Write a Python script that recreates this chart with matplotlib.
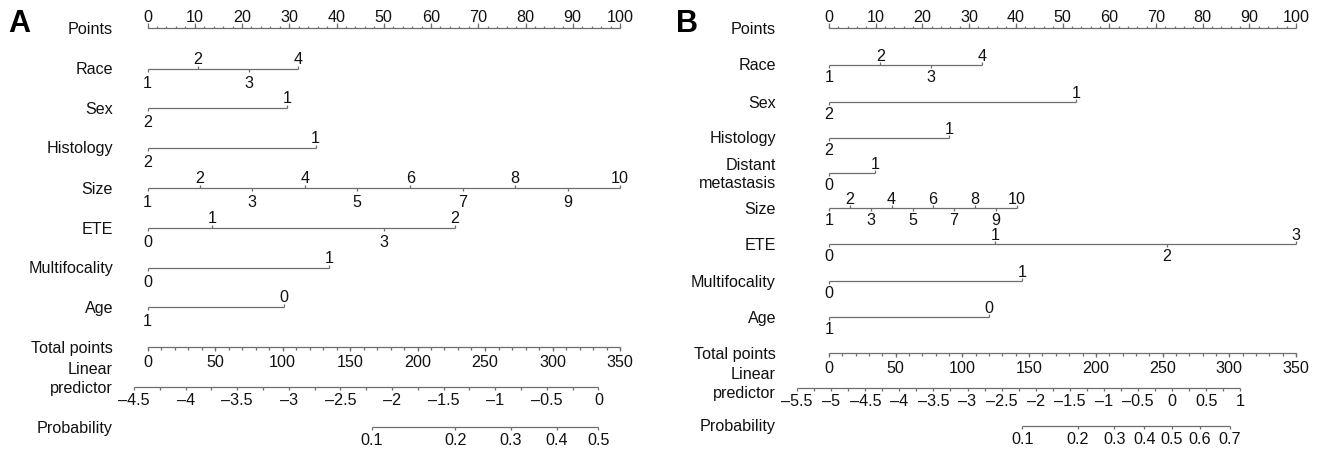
import numpy as np
import matplotlib
matplotlib.use("Agg")
import matplotlib.pyplot as plt

plt.rcParams['font.family'] = ['Liberation Sans', 'DejaVu Sans']

# ---------------- Data (panel A) ----------------
A_names = ["Race", "Sex", "Histology", "Size", "ETE", "Multifocality", "Age"]
A_race_levels = ["1", "2", "3", "4"]
A_race_points = [0, 10.7, 21.5, 31.9]
A_sex_levels = ["2", "1"]
A_sex_points = [0, 29.6]
A_hist_levels = ["2", "1"]
A_hist_points = [0, 35.6]
A_size_levels = ["1", "2", "3", "4", "5", "6", "7", "8", "9", "10"]
A_size_points = [0, 11.1, 22.2, 33.3, 44.4, 55.6, 66.7, 77.8, 88.9, 100]
A_ete_levels = ["0", "1", "3", "2"]
A_ete_points = [0, 13.6, 50.1, 65.1]
A_multi_levels = ["0", "1"]
A_multi_points = [0, 38.4]
A_age_levels = ["1", "0"]
A_age_points = [0, 28.8]
A_total_ticks = [0, 50, 100, 150, 200, 250, 300, 350]
A_lp_ticks = [-4.5, -4, -3.5, -3, -2.5, -2, -1.5, -1, -0.5, 0]
A_lp_ref = [-4.5, 0]            # linear predictor values
A_lp_ref_total = [-10, 334]      # matching total points
A_prob_ticks = [0.1, 0.2, 0.3, 0.4, 0.5]

# ---------------- Data (panel B) ----------------
B_names = ["Race", "Sex", "Histology", "Distant\nmetastasis", "Size", "ETE",
           "Multifocality", "Age"]
B_race_levels = ["1", "2", "3", "4"]
B_race_points = [0, 11.0, 21.8, 32.8]
B_sex_levels = ["2", "1"]
B_sex_points = [0, 52.9]
B_hist_levels = ["2", "1"]
B_hist_points = [0, 25.8]
B_dm_levels = ["0", "1"]
B_dm_points = [0, 9.8]
B_size_levels = ["1", "2", "3", "4", "5", "6", "7", "8", "9", "10"]
B_size_points = [0, 4.5, 9.0, 13.4, 17.9, 22.3, 26.8, 31.2, 35.7, 40.2]
B_ete_levels = ["0", "1", "2", "3"]
B_ete_points = [0, 35.5, 72.4, 100]
B_multi_levels = ["0", "1"]
B_multi_points = [0, 41.3]
B_age_levels = ["1", "0"]
B_age_points = [0, 34.2]
B_total_ticks = [0, 50, 100, 150, 200, 250, 300, 350]
B_lp_ticks = [-5.5, -5, -4.5, -4, -3.5, -3, -2.5, -2, -1.5, -1, -0.5, 0, 0.5, 1]
B_lp_ref = [-5.5, 1]
B_lp_ref_total = [-23.9, 308.2]
B_prob_ticks = [0.1, 0.2, 0.3, 0.4, 0.5, 0.6, 0.7]

A_vars = [(A_race_levels, A_race_points), (A_sex_levels, A_sex_points),
          (A_hist_levels, A_hist_points), (A_size_levels, A_size_points),
          (A_ete_levels, A_ete_points), (A_multi_levels, A_multi_points),
          (A_age_levels, A_age_points)]
B_vars = [(B_race_levels, B_race_points), (B_sex_levels, B_sex_points),
          (B_hist_levels, B_hist_points), (B_dm_levels, B_dm_points),
          (B_size_levels, B_size_points), (B_ete_levels, B_ete_points),
          (B_multi_levels, B_multi_points), (B_age_levels, B_age_points)]

# ---------------- Style ----------------
W, H = 1317, 449
LC = "#6e6e6e"
TC = "#111111"
FS = 11.6
LW = 0.9

fig = plt.figure(figsize=(W / 100, H / 100), dpi=100)


def fmt(v):
    s = f"{v:g}"
    return s.replace("-", "\u2013")


def panel(left_px, right_px, zero_px, hundred_px, label_px, letter, letter_px,
          names, variables, rows_y, total_ticks, lp_ticks, lp_ref, lp_ref_total,
          prob_ticks, lp_label_y, below_off, above_off):
    ax = fig.add_axes([left_px / W, 0, (right_px - left_px) / W, 1])
    ppp = (hundred_px - zero_px) / 100.0
    ax.set_xlim((left_px - zero_px) / ppp, (right_px - zero_px) / ppp)
    ax.set_ylim(H, 0)
    ax.axis("off")
    lab_x = (label_px - zero_px) / ppp

    def hline(x0, x1, y):
        ax.plot([x0, x1], [y, y], color=LC, lw=LW, solid_capstyle="butt")

    def ticks(xs, y, length):
        ax.vlines(xs, y, y + length, color=LC, lw=LW)

    # letter
    ax.text((letter_px - zero_px) / ppp, 24, letter, fontsize=22, fontweight="bold",
            ha="left", va="center", color="black")

    # Points axis
    y = rows_y[0]
    hline(0, 100, y)
    ticks(np.arange(0, 101, 10), y, -5)
    ticks(np.arange(0, 101, 2), y, -2.5)
    for v in range(0, 101, 10):
        ax.text(v, y - 6, str(v), fontsize=FS, ha="center", va="baseline", color=TC)
    ax.text(lab_x, y + 1, "Points", fontsize=FS, ha="right", va="center", color=TC)

    # variables
    for i, (name, (levels, pts)) in enumerate(zip(names, variables)):
        y = rows_y[i + 1]
        hline(min(pts), max(pts), y)
        order = np.argsort(pts)
        for k, idx in enumerate(order):
            p = pts[idx]
            if k % 2 == 0:
                ticks([p], y, 3)
                ax.text(p, y + below_off, levels[idx], fontsize=FS, ha="center",
                        va="baseline", color=TC)
            else:
                ticks([p], y, -3)
                ax.text(p, y + above_off, levels[idx], fontsize=FS, ha="center",
                        va="baseline", color=TC)
        ax.text(lab_x, y + 1, name, fontsize=FS, ha="right", va="center",
                color=TC, linespacing=1.25)

    # Total points
    y = rows_y[len(names) + 1]
    tmax = max(total_ticks)
    to_pts = lambda t: np.asarray(t, dtype=float) * 100.0 / tmax
    hline(0, 100, y)
    ticks(to_pts(np.arange(0, tmax + 1, 10)), y, 3)
    ticks(to_pts(total_ticks), y, 4)
    for t in total_ticks:
        ax.text(float(to_pts(t)), y + 20, str(t), fontsize=FS, ha="center",
                va="baseline", color=TC)
    ax.text(lab_x, y + 1, "Total points", fontsize=FS, ha="right", va="center", color=TC)

    # Linear predictor
    y = rows_y[len(names) + 2]
    slope = (lp_ref_total[1] - lp_ref_total[0]) / (lp_ref[1] - lp_ref[0])
    lp_to_pts = lambda v: to_pts(lp_ref_total[0] + (np.asarray(v, dtype=float) - lp_ref[0]) * slope)
    lo, hi = min(lp_ticks), max(lp_ticks)
    hline(float(lp_to_pts(lo)), float(lp_to_pts(hi)), y)
    ticks(lp_to_pts(np.arange(lo, hi + 0.001, 0.25)), y, 3)
    for v in lp_ticks:
        ax.text(float(lp_to_pts(v)), y + 18, fmt(v), fontsize=FS, ha="center",
                va="baseline", color=TC)
    ax.text(lab_x, lp_label_y, "Linear\npredictor", fontsize=FS, ha="right",
            va="center", color=TC, linespacing=1.4)

    # Probability
    y = rows_y[len(names) + 3]
    pr = np.asarray(prob_ticks)
    logit = np.log(pr / (1 - pr))
    xs = lp_to_pts(logit)
    hline(float(xs.min()), float(xs.max()), y)
    ticks(xs, y, 3)
    for x, v in zip(xs, prob_ticks):
        ax.text(float(x), y + 18, f"{v:g}", fontsize=FS, ha="center",
                va="baseline", color=TC)
    ax.text(lab_x, y + 1, "Probability", fontsize=FS, ha="right", va="center", color=TC)


A_rows = [28, 69, 108, 148, 188, 228, 268, 307, 347, 387, 427]
B_rows = [28, 65, 102, 138, 173, 208, 244, 281, 317, 353, 388, 426]

panel(0, 658, 147.5, 620, 113, "A", 8, A_names, A_vars, A_rows, A_total_ticks,
      A_lp_ticks, A_lp_ref, A_lp_ref_total, A_prob_ticks, 379, 19, -5)
panel(658, 1317, 829, 1296, 776, "B", 676, B_names, B_vars, B_rows, B_total_ticks,
      B_lp_ticks, B_lp_ref, B_lp_ref_total, B_prob_ticks, 384, 17, -4)

fig.savefig("out.png", dpi=100)
